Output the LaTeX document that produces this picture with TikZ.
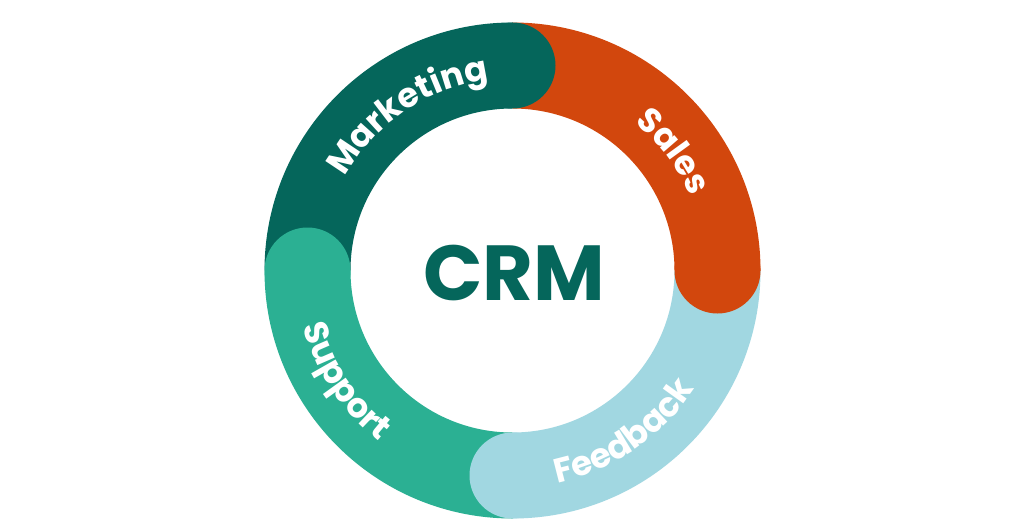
\documentclass[tikz,border=0pt]{standalone}
\usepackage{fontspec}
\newfontfamily\pop{Poppins}
\usetikzlibrary{decorations.text}
\definecolor{cmark}{HTML}{05665B}
\definecolor{csales}{HTML}{D2470D}
\definecolor{cfeed}{HTML}{A1D7E1}
\definecolor{csupp}{HTML}{2BB093}
\newcommand{\lblfont}{\pop\bfseries\fontsize{34}{40}\selectfont}
\tikzset{
  sector/.style={fill=#1, draw=none},
  capdot/.style={fill=#1, draw=none},
  ringtext/.style={decorate, decoration={text along path, text={|\lblfont|#1}, text align=center, text color=white}}
}
\begin{document}
\begin{tikzpicture}[x=1pt,y=1pt]
\fill[white] (0,0) rectangle (1024,531);
\useasboundingbox (0,0) rectangle (1024,531);
\coordinate (C) at (512.5,260.5);
\def\Ro{248}
\def\Ri{162}
\def\Rm{205}
% sectors
\fill[sector=cmark] (C) ++(90:\Ro) arc[start angle=90,end angle=180,radius=\Ro] -- ++(0:{\Ro-\Ri}) arc[start angle=180,end angle=90,radius=\Ri] -- cycle;
\fill[sector=csales] (C) ++(0:\Ro) arc[start angle=0,end angle=90,radius=\Ro] -- ++(0,{-(\Ro-\Ri)}) arc[start angle=90,end angle=0,radius=\Ri] -- cycle;
\fill[sector=cfeed] (C) ++(-90:\Ro) arc[start angle=-90,end angle=0,radius=\Ro] -- ++({-(\Ro-\Ri)},0) arc[start angle=0,end angle=-90,radius=\Ri] -- cycle;
\fill[sector=csupp] (C) ++(180:\Ro) arc[start angle=180,end angle=270,radius=\Ro] -- ++(0,{\Ro-\Ri}) arc[start angle=270,end angle=180,radius=\Ri] -- cycle;
% round caps
\fill[capdot=cmark] (C) ++(90:\Rm) circle[radius=43];
\fill[capdot=csales] (C) ++(0:\Rm) circle[radius=43];
\fill[capdot=cfeed] (C) ++(-90:\Rm) circle[radius=43];
\fill[capdot=csupp] (C) ++(180:\Rm) circle[radius=43];
% labels
\path[ringtext=Marketing] (C) ++(181:192) arc[start angle=181,end angle=67,radius=192];
\path[ringtext=Sales] (C) ++(86.5:192) arc[start angle=86.5,end angle=-13.5,radius=192];
\path[ringtext=Feedback] (C) ++(-105.5:217) arc[start angle=-105.5,end angle=-5.5,radius=217];
\path[ringtext=Support] (C) ++(163.5:217) arc[start angle=163.5,end angle=263.5,radius=217];
\node[text=cmark, font=\pop\bfseries\fontsize{78}{86}\selectfont, inner sep=0pt] (crm) at (514.5,257.5) {CRM};
\end{tikzpicture}
\end{document}
